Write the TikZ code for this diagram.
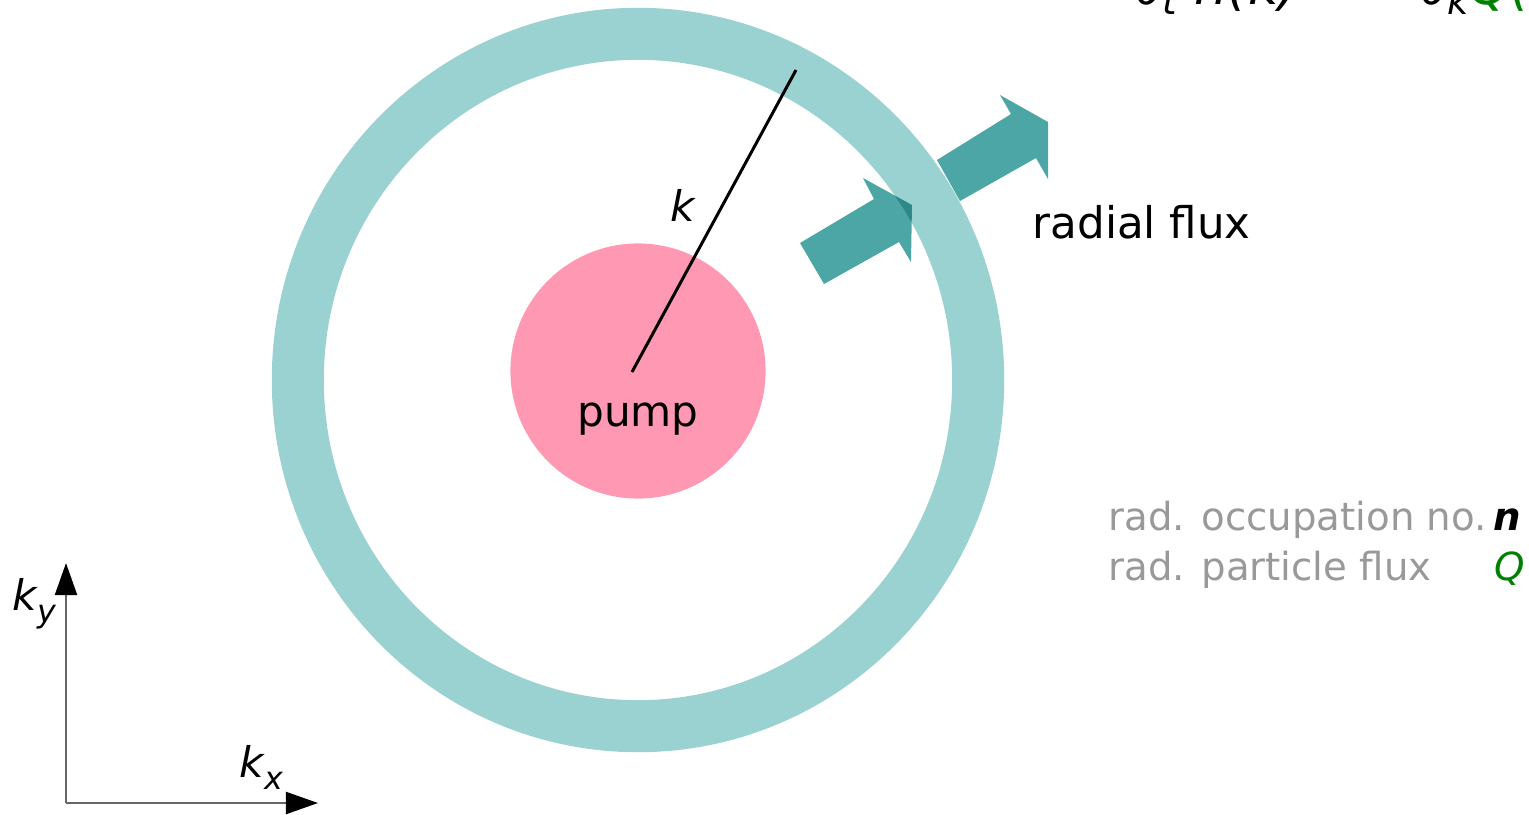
\documentclass[tikz,border=0pt]{standalone}
\usepackage{fontspec}
\setmainfont{DejaVu Sans}
\usetikzlibrary{arrows.meta}
\definecolor{ringc}{HTML}{9AD1D1}
\definecolor{arrc}{HTML}{4DA6A6}
\definecolor{pinkc}{HTML}{FF99B3}
\definecolor{greyt}{HTML}{999999}
\definecolor{greenq}{HTML}{008000}
\definecolor{axisc}{HTML}{666666}
\tikzset{
  txt/.style={inner sep=0pt, font=\fontsize{12}{14}\selectfont},
  greytxt/.style={inner sep=0pt, text=greyt, font=\fontsize{11}{13}\selectfont},
  flux/.style={fill=arrc, draw=none},
  axisline/.style={draw=axisc, line width=0.6pt, -{Triangle[length=0.32cm,width=0.22cm,color=black]}},
}
\begin{document}
\begin{tikzpicture}[x=0.01cm,y=-0.01cm]
\useasboundingbox (0,0) rectangle (1529,814);
% ring
\draw[ringc, line width=0.52cm] (638,380) ellipse [x radius=3.40cm, y radius=3.46cm];
% pump disk
\node[circle, fill=pinkc, minimum size=2.55cm, inner sep=0pt] (pump) at (638,371) {};
\node[txt] (pumplbl) at (638,419) {pump};
% radius line
\coordinate (ctr) at (632,372);
\coordinate (rend) at (796,70);
\draw[line width=0.85pt] (ctr) -- (rend);
\node[txt, font=\fontsize{12}{14}\selectfont\itshape] (klbl) at (683,205) {k};
% flux arrows
\begin{scope}[blend mode=multiply]
\fill[flux] (800,243) -- (874,199) -- (863,178) -- (912,205) -- (911,262) -- (899,242) -- (824,284) -- cycle;
\end{scope}
\fill[flux] (937,160) -- (1011,114) -- (1000,95) -- (1048,122) -- (1048,179) -- (1036,158) -- (960,201) -- cycle;
\node[txt, anchor=west, font=\fontsize{12.4}{14}\selectfont] (flux) at (1032,222) {radial flux};
% legend
\node[greytxt, anchor=base west] (occ) at (1108,530) {rad. occupation no.};
\node[inner sep=0pt, anchor=base west, font=\fontsize{11}{13}\selectfont\bfseries\itshape] (nsym) at (1493,530) {n};
\node[greytxt, anchor=base west] (pfl) at (1108,580) {rad. particle flux};
\node[inner sep=0pt, anchor=base west, text=greenq, font=\fontsize{11}{13}\selectfont\itshape] (qsym) at (1494,580) {Q};
% equation (cut at top)
\node[inner sep=0pt, anchor=base west, font=\fontsize{15}{18}\selectfont\itshape] (eqL) at (1135,4) {∂\raisebox{-0.35ex}{\fontsize{10.5}{12}\selectfont t} n(k) =};
\node[inner sep=0pt, anchor=base east, font=\fontsize{15}{18}\selectfont] (eqM) at (1414,4) {−};
\node[inner sep=0pt, anchor=base west, font=\fontsize{15}{18}\selectfont\itshape] (eqR) at (1420,4) {∂\raisebox{-0.35ex}{\fontsize{10.5}{12}\selectfont k}\textcolor{greenq}{Q(k)}};
% axes
\coordinate (orig) at (66,803);
\coordinate (ytip) at (66,563);
\coordinate (xtip) at (318,803);
\draw[axisline] (orig) -- (ytip);
\draw[axisline] (orig) -- (xtip);
\node[inner sep=0pt, anchor=base west, font=\fontsize{12}{14}\selectfont\itshape] (kylbl) at (12,610) {k\raisebox{-0.55ex}{\fontsize{9}{10}\selectfont y}};
\node[inner sep=0pt, anchor=base west, font=\fontsize{12}{14}\selectfont\itshape] (kxlbl) at (239,777) {k\raisebox{-0.55ex}{\fontsize{9}{10}\selectfont x}};
\end{tikzpicture}
\end{document}
